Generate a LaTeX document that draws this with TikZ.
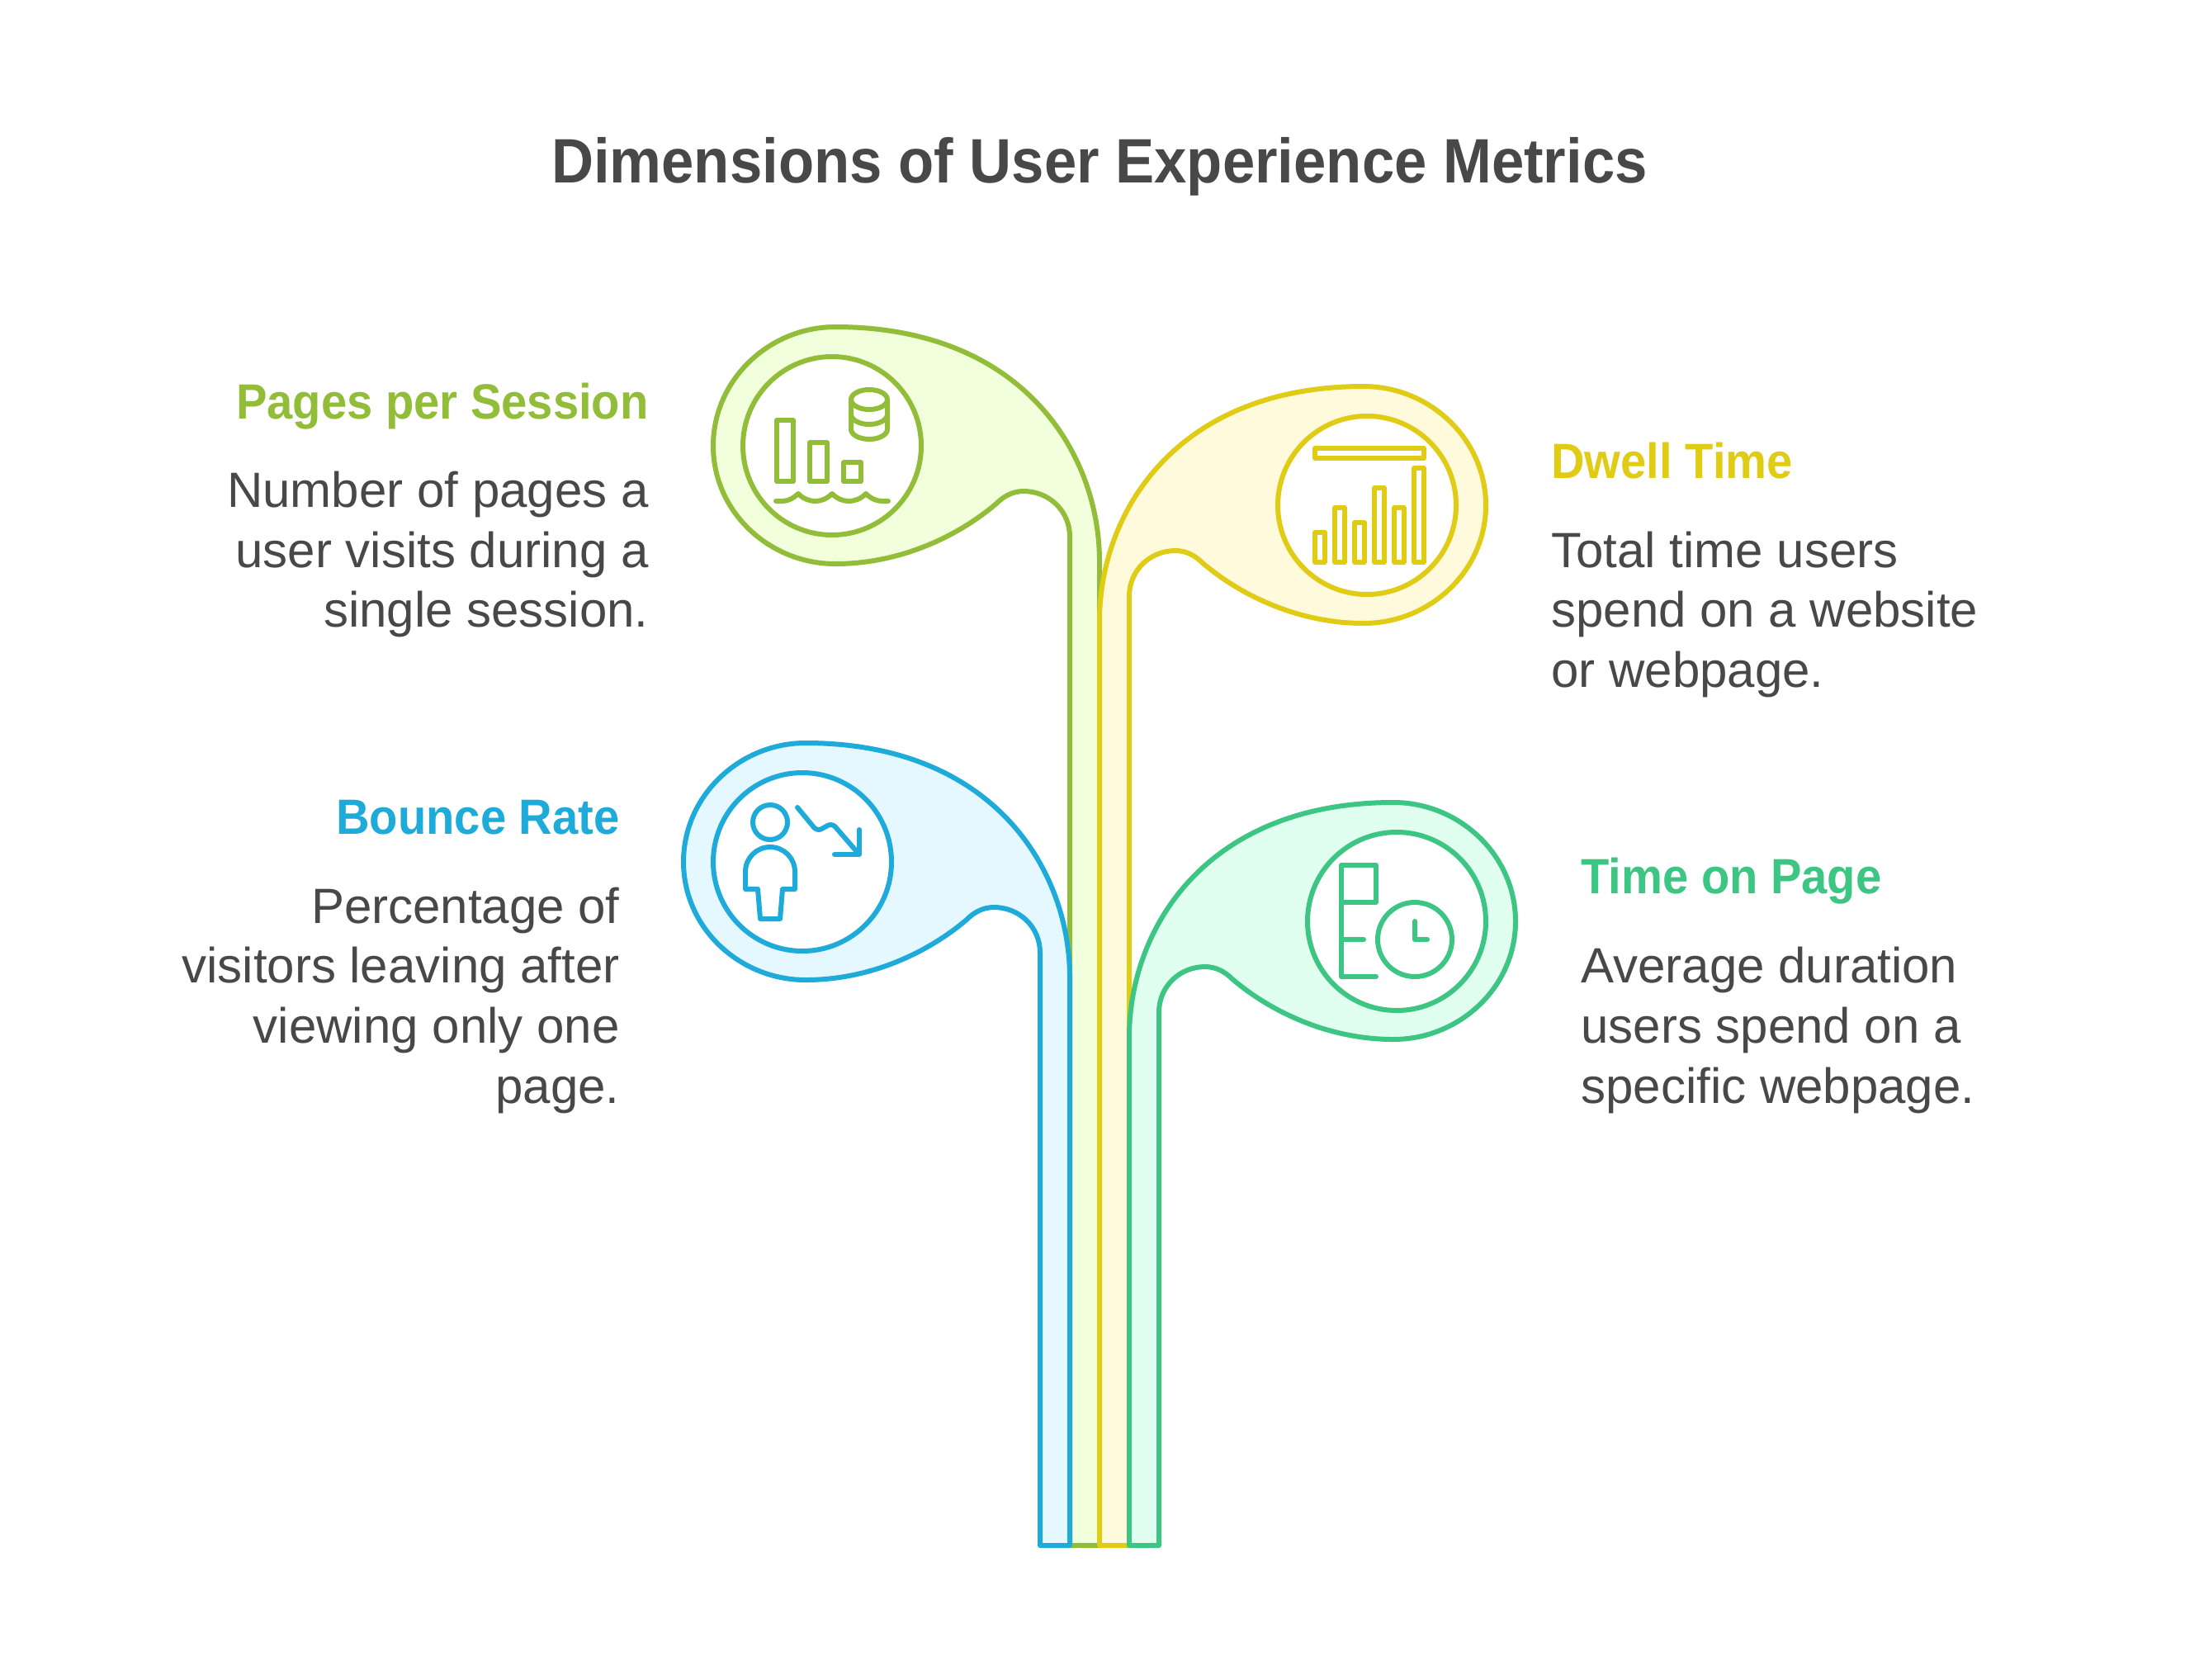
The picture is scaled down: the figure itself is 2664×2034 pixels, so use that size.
\documentclass[tikz,border=0pt]{standalone}
\usepackage{fontspec}
\setmainfont{Liberation Sans}
\newfontfamily\titlefont[FakeStretch=0.93]{Liberation Sans}
\newfontfamily\headfont[FakeStretch=0.936]{Liberation Sans}
\definecolor{ink}{HTML}{484848}
\definecolor{limeS}{HTML}{92BD39}\definecolor{limeF}{HTML}{F2FFDC}
\definecolor{yelS}{HTML}{E0CB15}\definecolor{yelF}{HTML}{FFFADC}
\definecolor{bluS}{HTML}{1EABDA}\definecolor{bluF}{HTML}{E5F8FF}
\definecolor{teaS}{HTML}{3CC583}\definecolor{teaF}{HTML}{E1FFF0}
\tikzset{
  lineart/.style={line width=3pt,line join=round,line cap=round},
  leafshape/.style={lineart,line cap=butt},
  iconface/.style={lineart,fill=white},
  titletext/.style={inner sep=0pt,anchor=base,font=\titlefont\fontsize{38}{38}\selectfont\bfseries,text=ink},
  headR/.style={inner sep=0pt,anchor=base east,font=\headfont\fontsize{30}{30}\selectfont\bfseries},
  headL/.style={inner sep=0pt,anchor=base west,font=\headfont\fontsize{30}{30}\selectfont\bfseries},
  bodyR/.style={inner sep=0pt,anchor=base east,font=\fontsize{30}{30}\selectfont,text=ink},
  bodyL/.style={inner sep=0pt,anchor=base west,font=\fontsize{30}{30}\selectfont,text=ink},
}
\newcommand{\leafpath}[1]{(1296,#1) -- (1296,650)
  .. controls (1296,619) and (1271,595) .. (1240,595)
  .. controls (1227,595) and (1216,601) .. (1207,610)
  .. controls (1160,650) and (1090,683) .. (1012,683)
  .. controls (932,683) and (864,620) .. (864,540)
  .. controls (864,460) and (932,396) .. (1012,396)
  .. controls (1240,396) and (1332,550) .. (1332,680)
  -- (1332,#1) -- cycle}
\begin{document}
\begin{tikzpicture}[x=0.5pt,y=-0.5pt]
\useasboundingbox (0,0) rectangle (2664,2034);
\fill[white] (0,0) rectangle (2664,2034);
% leaves
\path[leafshape,draw=limeS,fill=limeF] \leafpath{1872};
\begin{scope}[shift={(2664,72)},xscale=-1]
\path[leafshape,draw=yelS,fill=yelF] \leafpath{1800};
\end{scope}
\begin{scope}[shift={(-36,504)}]
\path[leafshape,draw=bluS,fill=bluF] \leafpath{1368};
\end{scope}
\begin{scope}[shift={(2700,576)},xscale=-1]
\path[leafshape,draw=teaS,fill=teaF] \leafpath{1296};
\end{scope}
% lime icon
\node[iconface,draw=limeS,circle,minimum size=108pt,inner sep=0pt] (limecircle) at (1008,540) {};
\begin{scope}[lineart,draw=limeS]
\draw (941,509) rectangle (961,583);
\draw (981,536) rectangle (1002,583);
\draw (1022,560) rectangle (1043,583);
\draw (940,607) -- (948,607) .. controls (955,607) and (962,603) .. (967,598)
 .. controls (973,604) and (980,607) .. (988,607) .. controls (995,607) and (1002,604) .. (1008,598)
 .. controls (1014,604) and (1021,607) .. (1028,607) .. controls (1036,607) and (1043,604) .. (1049,598)
 .. controls (1055,604) and (1062,607) .. (1069,607) -- (1076,607);
\draw (1053,484) ellipse [x radius=22,y radius=12];
\draw (1031,484) -- (1031,520) .. controls (1031,526.6) and (1040.9,532) .. (1053,532) .. controls (1065.1,532) and (1075,526.6) .. (1075,520) -- (1075,484);
\draw (1031,502) .. controls (1031,508.6) and (1040.9,514) .. (1053,514) .. controls (1065.1,514) and (1075,508.6) .. (1075,502);
\end{scope}
% yellow icon
\node[iconface,draw=yelS,circle,minimum size=108pt,inner sep=0pt] (yelcircle) at (1656,612) {};
\begin{scope}[lineart,draw=yelS]
\draw (1593,543) rectangle (1725,555);
\draw (1593,645) rectangle (1605,681);
\draw (1617,615) rectangle (1629,681);
\draw (1641,633) rectangle (1653,681);
\draw (1665,591) rectangle (1677,681);
\draw (1689,615) rectangle (1701,681);
\draw (1713,567) rectangle (1725,681);
\end{scope}
% blue icon
\node[iconface,draw=bluS,circle,minimum size=108pt,inner sep=0pt] (blucircle) at (972,1044) {};
\begin{scope}[lineart,draw=bluS]
\draw (933,996) circle (21);
\draw (903,1077) -- (903,1056) .. controls (903,1039.4) and (916.4,1026) .. (933,1026) .. controls (949.6,1026) and (963,1039.4) .. (963,1056) -- (963,1077) -- (948,1077) -- (945,1113) -- (921,1113) -- (918,1077) -- cycle;
\draw[rounded corners=3pt] (966,978) -- (990,1007) -- (1008,997) -- (1040,1034);
\draw (1041,1005) -- (1041,1035) -- (1011,1035);
\end{scope}
% teal icon
\node[iconface,draw=teaS,circle,minimum size=108pt,inner sep=0pt] (teacircle) at (1692,1116) {};
\begin{scope}[lineart,draw=teaS]
\draw (1625,1093) -- (1667,1093) -- (1667,1048) -- (1625,1048) -- (1625,1183) -- (1667,1183);
\draw (1625,1138) -- (1652,1138);
\draw (1714,1138) circle (45);
\draw (1714,1116) -- (1714,1138) -- (1729,1138);
\end{scope}
% text
\node[titletext] (title) at (1332,221) {Dimensions of User Experience Metrics};
\node[headR,text=limeS] (h1) at (786,507) {Pages per Session};
\node[bodyR] (b1a) at (786,614) {Number of pages a};
\node[bodyR] (b1b) at (786,687) {user visits during a};
\node[bodyR] (b1c) at (786,759) {single session.};
\node[headL,text=yelS] (h2) at (1879,579) {Dwell Time};
\node[bodyL] (b2a) at (1879,687) {Total time users};
\node[bodyL] (b2b) at (1879,759) {spend on a website};
\node[bodyL] (b2c) at (1879,832) {or webpage.};
\node[headR,text=bluS] (h3) at (751,1010) {Bounce Rate};
\node[bodyR] (b3a) at (751,1118) {Percentage of};
\node[bodyR] (b3b) at (751,1190) {visitors leaving after};
\node[bodyR] (b3c) at (751,1263) {viewing only one};
\node[bodyR] (b3d) at (751,1336) {page.};
\node[headL,text=teaS] (h4) at (1915,1082) {Time on Page};
\node[bodyL] (b4a) at (1915,1190) {Average duration};
\node[bodyL] (b4b) at (1915,1263) {users spend on a};
\node[bodyL] (b4c) at (1915,1336) {specific webpage.};
\end{tikzpicture}
\end{document}
